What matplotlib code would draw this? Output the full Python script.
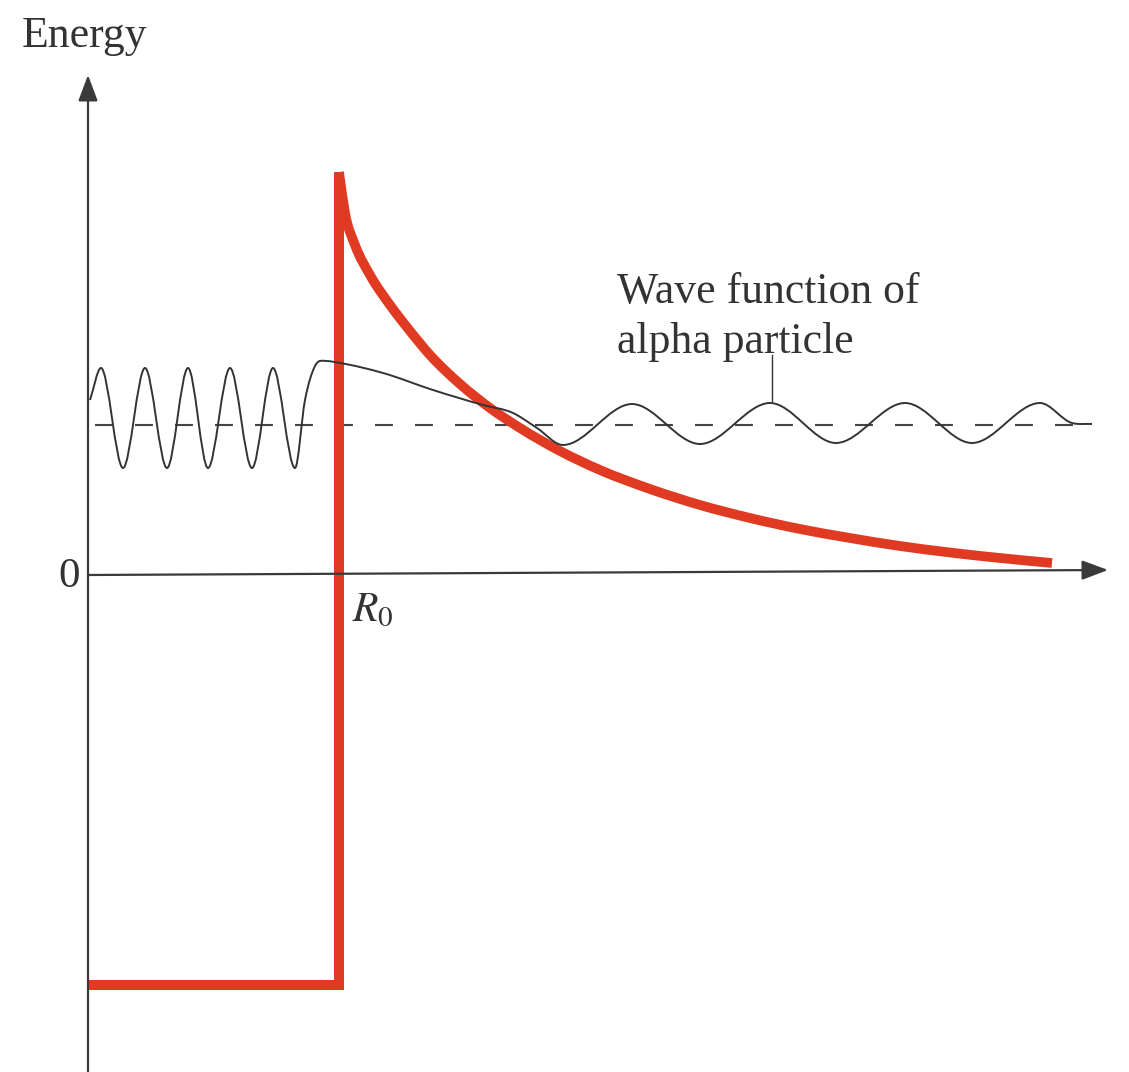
import numpy as np
import matplotlib
matplotlib.use('Agg')
import matplotlib.pyplot as plt
from matplotlib.path import Path
from matplotlib.patches import PathPatch

plt.rcParams['font.family'] = ['Liberation Serif', 'DejaVu Serif']
plt.rcParams['mathtext.fontset'] = 'stix'

# Diagram units: x = distance from the nucleus centre, y = energy (arbitrary units)
R0 = 2.51
well_depth = -4.10
barrier_top = 4.03
alpha_energy = 1.50

# Coulomb barrier outside the nucleus
coul_x = [2.51, 2.57, 2.67, 2.82, 3.02, 3.22, 3.42, 3.72, 4.02, 4.32, 4.72,
          5.12, 5.62, 6.12, 6.62, 7.12, 7.62, 8.12, 8.62, 9.12, 9.64]
coul_y = [4.03, 3.62, 3.30, 3.00, 2.70, 2.44, 2.20, 1.91, 1.67, 1.47, 1.24,
          1.05, 0.86, 0.70, 0.57, 0.46, 0.37, 0.29, 0.225, 0.17, 0.12]

# Wave function of the alpha particle: extremes and turning points
wave_x = [0.02, 0.13, 0.35, 0.57, 0.79, 1.00, 1.20, 1.42, 1.64, 1.85, 2.07,
          2.17, 2.27, 2.38, 2.52, 2.95, 3.45, 3.95, 4.25, 4.49, 4.75, 5.44,
          6.12, 6.82, 7.48, 8.17, 8.84, 9.52, 9.84, 10.04]
wave_y = [1.75, 2.07, 1.07, 2.07, 1.07, 2.07, 1.07, 2.07, 1.07, 2.07, 1.07,
          1.75, 2.09, 2.14, 2.12, 2.02, 1.85, 1.70, 1.62, 1.47, 1.30, 1.71,
          1.31, 1.72, 1.32, 1.72, 1.32, 1.72, 1.52, 1.51]

red = '#e03a22'
ink = '#333333'


def smooth_path(xs, ys):
    # smooth curve through the read points (cubic Hermite as Bezier segments),
    # flat tangent at every peak and trough
    x = np.asarray(xs, float)
    y = np.asarray(ys, float)
    h = np.diff(x)
    d = np.diff(y) / h
    m = np.empty_like(y)
    m[0], m[-1] = d[0], d[-1]
    m[1:-1] = (d[:-1] * h[1:] + d[1:] * h[:-1]) / (h[:-1] + h[1:])
    turn = np.sign(d[:-1]) != np.sign(d[1:])
    m[1:-1][turn] = 0
    verts = [(x[0], y[0])]
    codes = [Path.MOVETO]
    for i in range(len(x) - 1):
        verts += [(x[i] + h[i] / 3, y[i] + m[i] * h[i] / 3),
                  (x[i + 1] - h[i] / 3, y[i + 1] - m[i + 1] * h[i] / 3),
                  (x[i + 1], y[i + 1])]
        codes += [Path.CURVE4] * 3
    return Path(verts, codes)


fig = plt.figure(figsize=(11.29, 10.72), dpi=100)
ax = fig.add_axes([0, 0, 1, 1])
ax.set_xlim(-0.88, 10.41)
ax.set_ylim(-4.97, 5.75)
ax.axis('off')

# energy of the alpha particle
ax.plot([0.07, 10.07], [alpha_energy, alpha_energy], color='#444444', lw=1.5,
        ls=(0, (8.6, 10.6)), zorder=1)

# nuclear well + barrier
ax.plot([0, R0, R0], [well_depth, well_depth, barrier_top], color=red, lw=7.2,
        solid_joinstyle='miter', solid_capstyle='butt', zorder=2)
ax.add_patch(PathPatch(smooth_path(coul_x, coul_y), fill=False, edgecolor=red,
                       lw=7.0, capstyle='butt', zorder=2))

# axes with arrows
arrow = dict(arrowstyle='-|>,head_length=0.8,head_width=0.3', color='#3a3a3a',
             lw=1.6, mutation_scale=20, shrinkA=0, shrinkB=0)
ax.annotate('', xy=(0, 5.0), xytext=(0, -4.97), arrowprops=arrow, zorder=3)
ax.annotate('', xy=(10.20, 0.05), xytext=(0, 0), arrowprops=arrow, zorder=3)

# wave function
ax.add_patch(PathPatch(smooth_path(wave_x, wave_y), fill=False, edgecolor=ink,
                       lw=1.4, zorder=4))

# labels
ax.text(-0.66, 5.28, 'Energy', fontsize=31.5, color=ink, va='baseline', ha='left')
ax.text(-0.08, -0.02, '0', fontsize=31, color=ink, va='center', ha='right')
ax.text(2.64, -0.17, '$R_0$', fontsize=30, color=ink, va='top', ha='left')
ax.text(5.29, 2.72, 'Wave function of', fontsize=31.5, color=ink, va='baseline')
ax.text(5.29, 2.22, 'alpha particle', fontsize=31.5, color=ink, va='baseline')
ax.plot([6.84, 6.84], [2.20, 1.74], color=ink, lw=1.0, zorder=4)

fig.savefig('out.png', dpi=100)
